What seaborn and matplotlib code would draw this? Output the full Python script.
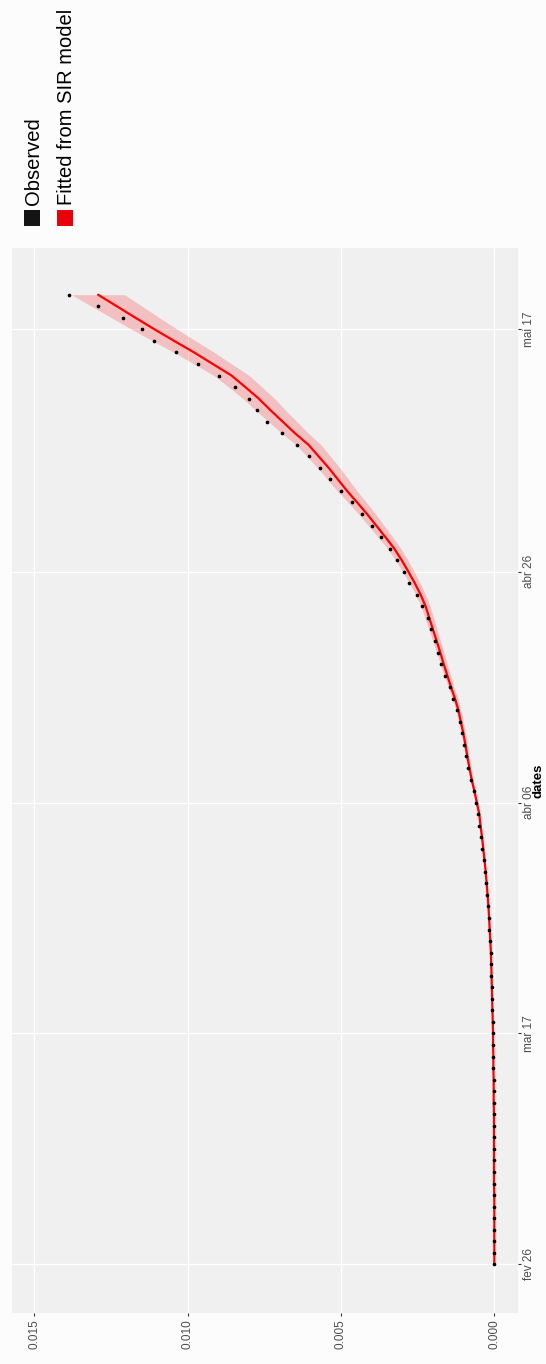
import matplotlib
matplotlib.use("Agg")
import matplotlib.pyplot as plt
from matplotlib.patches import Rectangle
import numpy as np
import pandas as pd
import seaborn as sns

# ---- data -------------------------------------------------------------
start_date = "2020-02-26"
n_days = 85

observed = [
    0.000000, 0.000001, 0.000001, 0.000002, 0.000002, 0.000003, 0.000004, 0.000005,
    0.000006, 0.000007, 0.000008, 0.000010, 0.000012, 0.000014, 0.000017, 0.000020,
    0.000025, 0.000030, 0.000035, 0.000040, 0.000045, 0.000050, 0.000060, 0.000075,
    0.000090, 0.000100, 0.000110, 0.000120, 0.000140, 0.000160, 0.000180, 0.000210,
    0.000230, 0.000260, 0.000300, 0.000350, 0.000390, 0.000440, 0.000500, 0.000540,
    0.000600, 0.000670, 0.000760, 0.000860, 0.000930, 0.001000, 0.001050, 0.001130,
    0.001210, 0.001350, 0.001450, 0.001600, 0.001750, 0.001840, 0.001920, 0.002060,
    0.002170, 0.002360, 0.002520, 0.002780, 0.002940, 0.003160, 0.003410, 0.003700,
    0.004000, 0.004320, 0.004650, 0.005000, 0.005350, 0.005700, 0.006050, 0.006430,
    0.006910, 0.007410, 0.007740, 0.008010, 0.008460, 0.008990, 0.009650, 0.010380,
    0.011100, 0.011480, 0.012110, 0.012920, 0.013870,
]

fitted = [
    0.000000, 0.000000, 0.000000, 0.000000, 0.000000, 0.000000, 0.000000, 0.000010,
    0.000010, 0.000010, 0.000010, 0.000010, 0.000010, 0.000010, 0.000020, 0.000020,
    0.000020, 0.000030, 0.000030, 0.000040, 0.000040, 0.000050, 0.000060, 0.000070,
    0.000080, 0.000090, 0.000100, 0.000110, 0.000130, 0.000150, 0.000170, 0.000190,
    0.000220, 0.000250, 0.000280, 0.000320, 0.000360, 0.000400, 0.000450, 0.000490,
    0.000570, 0.000650, 0.000740, 0.000810, 0.000880, 0.000940, 0.001010, 0.001090,
    0.001170, 0.001280, 0.001410, 0.001530, 0.001650, 0.001760, 0.001880, 0.002000,
    0.002120, 0.002240, 0.002400, 0.002590, 0.002800, 0.003020, 0.003260, 0.003550,
    0.003850, 0.004150, 0.004470, 0.004800, 0.005100, 0.005400, 0.005730, 0.006060,
    0.006500, 0.006900, 0.007300, 0.007680, 0.008120, 0.008570, 0.009180, 0.009790,
    0.010440, 0.011080, 0.011700, 0.012310, 0.012920,
]

fitted_lower = [
    0.000000, 0.000000, 0.000000, 0.000000, 0.000000, 0.000000, 0.000000, 0.000009,
    0.000009, 0.000009, 0.000009, 0.000009, 0.000009, 0.000009, 0.000019, 0.000019,
    0.000019, 0.000028, 0.000028, 0.000037, 0.000037, 0.000047, 0.000056, 0.000065,
    0.000075, 0.000084, 0.000093, 0.000103, 0.000121, 0.000140, 0.000159, 0.000177,
    0.000205, 0.000233, 0.000261, 0.000299, 0.000336, 0.000373, 0.000420, 0.000457,
    0.000532, 0.000606, 0.000690, 0.000756, 0.000821, 0.000877, 0.000942, 0.001017,
    0.001092, 0.001194, 0.001316, 0.001427, 0.001539, 0.001642, 0.001754, 0.001866,
    0.001978, 0.002090, 0.002239, 0.002416, 0.002612, 0.002818, 0.003042, 0.003312,
    0.003592, 0.003872, 0.004171, 0.004478, 0.004758, 0.005038, 0.005346, 0.005654,
    0.006065, 0.006438, 0.006811, 0.007165, 0.007576, 0.007996, 0.008565, 0.009134,
    0.009741, 0.010338, 0.010916, 0.011485, 0.012054,
]

fitted_upper = [
    0.000000, 0.000000, 0.000000, 0.000000, 0.000000, 0.000000, 0.000000, 0.000011,
    0.000011, 0.000011, 0.000011, 0.000011, 0.000011, 0.000011, 0.000021, 0.000021,
    0.000021, 0.000032, 0.000032, 0.000043, 0.000043, 0.000053, 0.000064, 0.000075,
    0.000085, 0.000096, 0.000107, 0.000117, 0.000139, 0.000160, 0.000181, 0.000203,
    0.000235, 0.000267, 0.000299, 0.000341, 0.000384, 0.000427, 0.000480, 0.000523,
    0.000608, 0.000694, 0.000790, 0.000864, 0.000939, 0.001003, 0.001078, 0.001163,
    0.001248, 0.001366, 0.001504, 0.001633, 0.001761, 0.001878, 0.002006, 0.002134,
    0.002262, 0.002390, 0.002561, 0.002764, 0.002988, 0.003222, 0.003478, 0.003788,
    0.004108, 0.004428, 0.004769, 0.005122, 0.005442, 0.005762, 0.006114, 0.006466,
    0.006936, 0.007362, 0.007789, 0.008195, 0.008664, 0.009144, 0.009795, 0.010446,
    0.011139, 0.011822, 0.012484, 0.013135, 0.013786,
]

date_ticks = ["2020-02-26", "2020-03-17", "2020-04-06", "2020-04-26", "2020-05-17"]
date_tick_labels = ["fev 26", "mar 17", "abr 06", "abr 26", "mai 17"]
value_ticks = [0.000, 0.005, 0.010, 0.015]
value_tick_labels = ["0.000", "0.005", "0.010", "0.015"]
legend_labels = ["Observed", "Fitted from SIR model"]
legend_colors = ["#141414", "#E8000B"]

# ---- frame --------------------------------------------------------------
dates = pd.date_range(start_date, periods=n_days, freq="D")
df = pd.DataFrame({
    "dates": dates,
    "observed": observed,
    "fitted": fitted,
    "lower": fitted_lower,
    "upper": fitted_upper,
})

sns.set_theme(style="darkgrid")
plt.rcParams["font.family"] = ["Liberation Sans", "DejaVu Sans"]

W, H = 546, 1364
fig = plt.figure(figsize=(W / 100, H / 100), dpi=100)
fig.patch.set_facecolor("#FCFCFC")

# panel extent in pixels (left, top, right, bottom)
pl, pt, pr, pb = 11.7, 248.3, 517.7, 1312.7
ax = fig.add_axes([pl / W, (H - pb) / H, (pr - pl) / W, (pb - pt) / H])
ax.set_facecolor("#F0F0F0")

# value axis runs horizontally (reversed), dates run upward
ax.fill_betweenx(df["dates"], df["lower"], df["upper"],
                 color="#FF0000", alpha=0.2, linewidth=0)
sns.lineplot(data=df, x="fitted", y="dates", orient="y", sort=True,
             color="#FF0000", linewidth=1.6, ax=ax)
sns.scatterplot(data=df, x="observed", y="dates", color="black",
                s=7, linewidth=0, ax=ax, zorder=5)

ax.set_xlim(0.015737, -0.000763)
t0 = pd.Timestamp(start_date)
ax.set_ylim(t0 - pd.Timedelta(days=4.19), t0 + pd.Timedelta(days=88.02))

ax.grid(True, color="white", linewidth=1.0)
ax.set_axisbelow(True)
for s in ax.spines.values():
    s.set_visible(False)

ax.set_xticks(value_ticks)
ax.set_xticklabels(value_tick_labels, rotation=90, fontsize=8.5, color="#4D4D4D")
ax.set_yticks(pd.to_datetime(date_ticks))
ax.yaxis.tick_right()
ax.set_yticklabels(date_tick_labels, rotation=90, fontsize=8.5, color="#4D4D4D",
                   va="center")
ax.tick_params(axis="x", length=2.5, width=0.8, color="#333333", pad=2, bottom=True)
ax.tick_params(axis="y", length=2.0, width=0.8, color="#333333", pad=1.5,
               right=True, left=False)

ax.set_xlabel("")
ax.yaxis.set_label_position("right")
ax.set_ylabel("dates", rotation=90, fontsize=9.5, fontweight="bold", color="black")
ax.yaxis.label.set_rotation_mode("default")
ax.yaxis.label.set_horizontalalignment("center")
ax.yaxis.label.set_verticalalignment("center")
ax.yaxis.set_label_coords((538 - pl) / (pr - pl), 0.5)

# ---- legend -------------------------------------------------------------
key = 16
key_top = 210
for cx, lab, col in zip([31.5, 65.0], legend_labels, legend_colors):
    fig.add_artist(Rectangle(((cx - key / 2) / W, (H - key_top - key) / H),
                             key / W, key / H, transform=fig.transFigure,
                             facecolor=col, edgecolor="none"))
    fig.text((cx + 2) / W, (H - 205) / H, lab, rotation=90, ha="center",
             va="bottom", fontsize=14.5, color="black")

fig.savefig("out.png", dpi=100, facecolor=fig.get_facecolor())
